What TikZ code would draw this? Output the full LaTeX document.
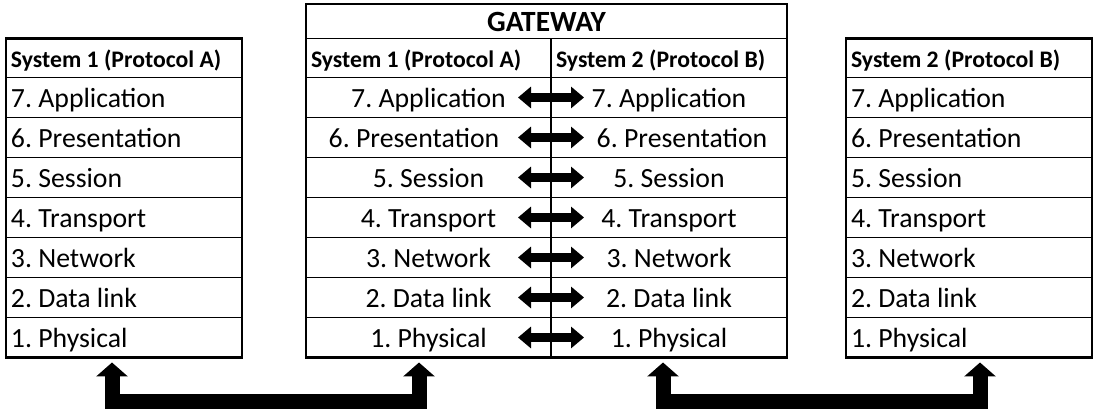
\documentclass[tikz,border=0pt]{standalone}
\usepackage{fontspec}
\setmainfont{Carlito}
\frenchspacing
\usetikzlibrary{positioning,arrows.meta}
\tikzset{
  layer/.style={draw, line width=1.1pt, outer sep=0pt, minimum height=0.8cm, inner xsep=0.1cm, inner ysep=0pt, text height=0.44cm, text depth=0.04cm, font=\fontsize{15.8}{18}\selectfont},
  side/.style={layer, text width=#1, align=flush left},
  gwcell/.style={layer, minimum width=#1},
  hdr/.style={minimum height=0.78cm, font=\fontsize{13.5}{16}\selectfont\bfseries},
  frame/.style={draw, line width=1.6pt},
  biarrow/.style={line width=0.18cm, {Triangle[width=0.42cm,length=0.26cm]}-{Triangle[width=0.42cm,length=0.26cm]}},
  bigarrow/.style={line width=0.3cm, {Triangle[width=0.62cm,length=0.28cm]}-{Triangle[width=0.62cm,length=0.28cm]}}
}
\begin{document}
\begin{tikzpicture}
        \useasboundingbox (0,0) rectangle (21.94,-8.18);
        % System 1
        \node (lh) [side=4.52cm, hdr, anchor=north west] at (0.12,-0.77) {System 1 (Protocol A)};
        \node (l7) [side=4.52cm, below=0pt of lh] {7. Application};
        \node (l6) [side=4.52cm, below=0pt of l7] {6. Presentation};
        \node (l5) [side=4.52cm, below=0pt of l6] {5. Session};
        \node (l4) [side=4.52cm, below=0pt of l5] {4. Transport};
        \node (l3) [side=4.52cm, below=0pt of l4] {3. Network};
        \node (l2) [side=4.52cm, below=0pt of l3] {2. Data link};
        \node (l1) [side=4.52cm, below=0pt of l2] {1. Physical};
        \draw[frame] (lh.north west) rectangle (l1.south east);

        % Gateway
        \node (gw) [layer, minimum width=9.62cm, minimum height=0.69cm, anchor=north west, font=\fontsize{16.7}{20}\selectfont\bfseries] at (6.12,-0.08) {GATEWAY};
        \node (ah) [side=4.7cm, hdr, anchor=north west] at (gw.south west) {System 1 (Protocol A)};
        \node (a7) [gwcell=4.9cm, below=0pt of ah] {7. Application};
        \node (a6) [gwcell=4.9cm, below=0pt of a7] {6. Presentation\hspace*{0.58cm}};
        \node (a5) [gwcell=4.9cm, below=0pt of a6] {5. Session};
        \node (a4) [gwcell=4.9cm, below=0pt of a5] {4. Transport};
        \node (a3) [gwcell=4.9cm, below=0pt of a4] {3. Network};
        \node (a2) [gwcell=4.9cm, below=0pt of a3] {2. Data link};
        \node (a1) [gwcell=4.9cm, below=0pt of a2] {1. Physical};
        \node (bh) [side=4.52cm, hdr, anchor=north west] at (ah.north east) {System 2 (Protocol B)};
        \node (b7) [gwcell=4.72cm, below=0pt of bh] {7. Application};
        \node (b6) [gwcell=4.72cm, below=0pt of b7] {\hspace*{0.52cm}6. Presentation};
        \node (b5) [gwcell=4.72cm, below=0pt of b6] {5. Session};
        \node (b4) [gwcell=4.72cm, below=0pt of b5] {4. Transport};
        \node (b3) [gwcell=4.72cm, below=0pt of b4] {3. Network};
        \node (b2) [gwcell=4.72cm, below=0pt of b3] {2. Data link};
        \node (b1) [gwcell=4.72cm, below=0pt of b2] {1. Physical};
        \draw[frame] (gw.north west) rectangle (b1.south east);

        % System 2
        \node (rh) [side=4.72cm, hdr, anchor=north west] at (16.92,-0.77) {System 2 (Protocol B)};
        \node (r7) [side=4.72cm, below=0pt of rh] {7. Application};
        \node (r6) [side=4.72cm, below=0pt of r7] {6. Presentation};
        \node (r5) [side=4.72cm, below=0pt of r6] {5. Session};
        \node (r4) [side=4.72cm, below=0pt of r5] {4. Transport};
        \node (r3) [side=4.72cm, below=0pt of r4] {3. Network};
        \node (r2) [side=4.72cm, below=0pt of r3] {2. Data link};
        \node (r1) [side=4.72cm, below=0pt of r2] {1. Physical};
        \draw[frame] (rh.north west) rectangle (r1.south east);

        % Arrows
        \draw[biarrow] ([xshift=-0.66cm]a7.east) -- ([xshift=0.66cm]b7.west);
        \draw[biarrow] ([xshift=-0.66cm]a6.east) -- ([xshift=0.66cm]b6.west);
        \draw[biarrow] ([xshift=-0.66cm]a5.east) -- ([xshift=0.66cm]b5.west);
        \draw[biarrow] ([xshift=-0.66cm]a4.east) -- ([xshift=0.66cm]b4.west);
        \draw[biarrow] ([xshift=-0.66cm]a3.east) -- ([xshift=0.66cm]b3.west);
        \draw[biarrow] ([xshift=-0.66cm]a2.east) -- ([xshift=0.66cm]b2.west);
        \draw[biarrow] ([xshift=-0.66cm]a1.east) -- ([xshift=0.66cm]b1.west);
        \draw[bigarrow] ([xshift=-0.24cm, yshift=-0.1cm]l1.south) -- ++(0,-0.77) -| ([xshift=-0.19cm, yshift=-0.1cm]a1.south);
        \draw[bigarrow] ([xshift=-0.12cm, yshift=-0.1cm]b1.south) -- ++(0,-0.77) -| ([xshift=0.22cm, yshift=-0.1cm]r1.south);
    \end{tikzpicture}
\end{document}
